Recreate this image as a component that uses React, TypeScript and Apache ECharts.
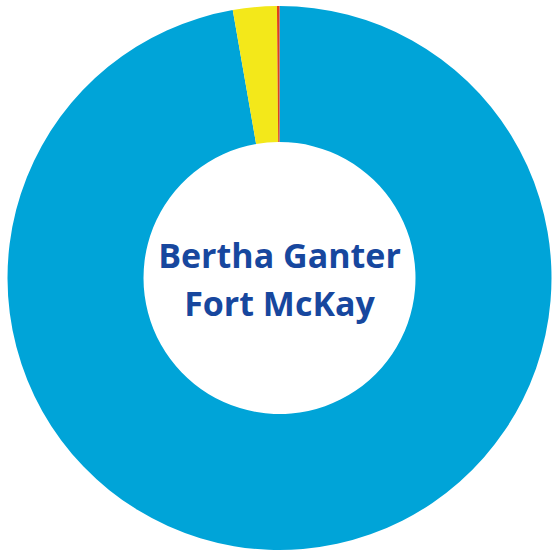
import React, { useEffect, useRef } from "react";
import * as echarts from "echarts";

const categories = ["Blue", "Yellow", "Red"];
const values = [97.25, 2.6, 0.15];
const colors = ["#00a4d8", "#f3e81a", "#e0401c"];
const centerText = "Bertha Ganter\nFort McKay";

export default function App() {
  const ref = useRef<HTMLDivElement>(null);
  useEffect(() => {
    const chart = echarts.init(ref.current!, null, { renderer: "svg" });
    chart.setOption({
      animation: false,
      series: [
        {
          type: "pie",
          center: [279.5, 278],
          radius: [136, 272],
          startAngle: 90,
          clockwise: true,
          label: { show: false },
          labelLine: { show: false },
          emphasis: { disabled: true },
          data: categories.map((c, i) => ({
            name: c,
            value: values[i],
            itemStyle: { color: colors[i] },
          })),
        },
      ],
      graphic: [
        {
          type: "text",
          x: 279.5,
          y: 279,
          style: {
            text: centerText,
            fill: "#17479e",
            font: "bold 34px 'Open Sans'",
            align: "center",
            verticalAlign: "middle",
            lineHeight: 48,
          },
        },
      ],
    });
    return () => chart.dispose();
  }, []);
  return (
    <div
      ref={ref}
      style={{ position: "fixed", left: 0, top: 0, width: 552, height: 553, background: "#fff" }}
    />
  );
}
